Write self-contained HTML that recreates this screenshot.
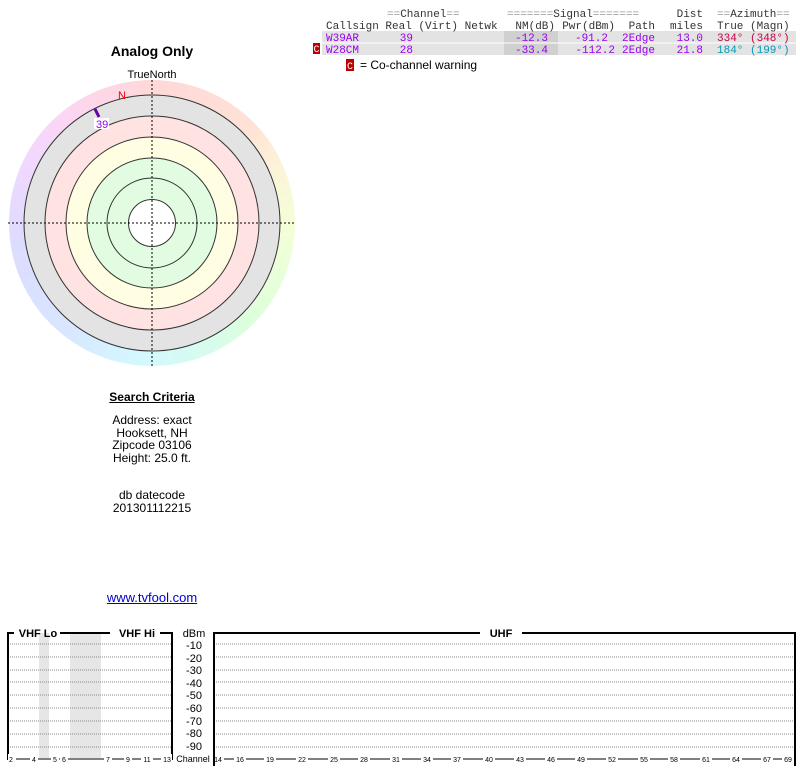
<!DOCTYPE html>
<html><head><meta charset="utf-8"><style>
body{margin:0;width:800px;height:768px;background:#fff;position:relative;overflow:hidden;font-family:"Liberation Sans",sans-serif}
.wheel{position:absolute;left:9px;top:80px;width:286px;height:286px;border-radius:50%;
background:conic-gradient(from 0deg,#ffd8d8,#ffe2d6 45deg,#fbf6d8 70deg,#f2ffd8 95deg,#dcffdc 135deg,#d6fbf0 160deg,#d4f8ff 185deg,#d8e6ff 220deg,#dcdcff 260deg,#f0d8ff 295deg,#fcd6f4 320deg,#ffd8d8 360deg)}
svg{position:absolute;left:0;top:0}
.t{position:absolute;text-align:center;width:304px;left:0;font-size:12px;line-height:12.5px}
</style></head><body>
<div class="wheel"></div>
<svg width="800" height="768" font-family="Liberation Sans, sans-serif">
<circle cx="152" cy="223" r="128" fill="#e3e3e3"/>
<circle cx="152" cy="223" r="107" fill="#ffe2e2"/>
<circle cx="152" cy="223" r="86" fill="#fffde2"/>
<circle cx="152" cy="223" r="65" fill="#e2fce2"/>
<circle cx="152" cy="223" r="23.5" fill="#fff"/>
<g fill="none" stroke="#333" stroke-width="1">
<circle cx="152" cy="223" r="128"/><circle cx="152" cy="223" r="107"/><circle cx="152" cy="223" r="86"/>
<circle cx="152" cy="223" r="65"/><circle cx="152" cy="223" r="45"/><circle cx="152" cy="223" r="23.5"/>
</g>
<g stroke="#000" stroke-dasharray="2,2"><line x1="152" y1="80" x2="152" y2="367"/><line x1="8" y1="223" x2="296" y2="223"/></g>
<text x="122" y="99" fill="#e00" font-size="11" text-anchor="middle">N</text>
<line x1="95" y1="109" x2="99" y2="117" stroke="#6600aa" stroke-width="3"/>
<rect x="94" y="118" width="15" height="11" fill="#fff"/>
<text x="96" y="128" fill="#9900ee" font-size="11">39</text>
<text x="152" y="56" font-size="14" font-weight="bold" text-anchor="middle">Analog Only</text>
<text x="152" y="78" font-size="11" text-anchor="middle">TrueNorth</text>

<!-- table -->
<rect x="322" y="31" width="474" height="12" fill="#e3e3e3"/>
<rect x="322" y="43" width="474" height="12" fill="#e3e3e3"/>
<rect x="504" y="31" width="54" height="24" fill="#d0d0d0"/>
<line x1="322" y1="43" x2="796" y2="43" stroke="#fff"/>
<rect x="313" y="43" width="7" height="11" fill="#b00"/>
<text x="316.5" y="52" fill="#fff" font-size="10" text-anchor="middle" font-family="Liberation Mono, monospace">C</text>
<g font-family="Liberation Mono, monospace" font-size="11">
<text x="387" y="17" fill="#999">==<tspan fill="#333">Channel</tspan>==</text>
<text x="507" y="17" fill="#999">=======<tspan fill="#333">Signal</tspan>=======</text>
<text x="703" y="17" fill="#333" text-anchor="end">Dist</text>
<text x="717" y="17" fill="#999">==<tspan fill="#333">Azimuth</tspan>==</text>
<text x="326" y="29" fill="#333">Callsign Real (Virt) Netwk</text>
<text x="555" y="29" fill="#333" text-anchor="end">NM(dB)</text>
<text x="615" y="29" fill="#333" text-anchor="end">Pwr(dBm)</text>
<text x="655" y="29" fill="#333" text-anchor="end">Path</text>
<text x="703" y="29" fill="#333" text-anchor="end">miles</text>
<text x="717" y="29" fill="#333">True (Magn)</text>
<g fill="#9900ee">
<text x="326" y="41">W39AR</text><text x="413" y="41" text-anchor="end">39</text>
<text x="548" y="41" text-anchor="end">-12.3</text><text x="608" y="41" text-anchor="end">-91.2</text>
<text x="655" y="41" text-anchor="end">2Edge</text><text x="703" y="41" text-anchor="end">13.0</text>
<text x="326" y="53">W28CM</text><text x="413" y="53" text-anchor="end">28</text>
<text x="548" y="53" text-anchor="end">-33.4</text><text x="615" y="53" text-anchor="end">-112.2</text>
<text x="655" y="53" text-anchor="end">2Edge</text><text x="703" y="53" text-anchor="end">21.8</text>
</g>
<text x="717" y="41" fill="#cc0044">334° (348°)</text>
<text x="717" y="53" fill="#0099bb">184° (199°)</text>
</g>
<rect x="346" y="59" width="8" height="12" fill="#b00"/>
<text x="350" y="69" fill="#fff" font-size="10" text-anchor="middle" font-family="Liberation Mono, monospace">C</text>
<text x="360" y="69" font-size="12">= Co-channel warning</text>

<!-- bottom chart -->
<rect x="39" y="633" width="10" height="125" fill="#e6e6e6"/>
<rect x="70" y="633" width="31" height="125" fill="#e6e6e6"/>
<g stroke="#888" stroke-dasharray="1,1">
<path d="M8 644H172M8 657H172M8 670H172M8 682H172M8 695H172M8 708H172M8 721H172M8 734H172M8 747H172"/>
<path d="M214 644H795M214 657H795M214 670H795M214 682H795M214 695H795M214 708H795M214 721H795M214 734H795M214 747H795"/>
</g>
<g stroke="#000" stroke-width="2" fill="none">
<path d="M8 760V633H14M60 633H110M160 633H172V760"/>
<path d="M214 760V633H480M522 633H795V760"/>
</g>
<g font-size="11" font-weight="bold" text-anchor="middle">
<text x="38" y="637">VHF Lo</text><text x="137" y="637">VHF Hi</text><text x="501" y="637">UHF</text>
</g>
<g font-size="11" text-anchor="middle">
<text x="194" y="637">dBm</text>
<text x="194" y="649">-10</text><text x="194" y="662">-20</text><text x="194" y="674">-30</text><text x="194" y="687">-40</text><text x="194" y="699">-50</text><text x="194" y="712">-60</text><text x="194" y="725">-70</text><text x="194" y="737">-80</text><text x="194" y="750">-90</text>
<text x="193" y="762" font-size="9">Channel</text>
</g>
<line x1="8" y1="759" x2="172" y2="759" stroke="#000"/>
<line x1="214" y1="759" x2="795" y2="759" stroke="#000"/>
<g font-size="7" text-anchor="middle"><g fill="#000">
<rect x="8" y="754" width="8" height="12" fill="#fff"/><text x="11" y="762">2</text>
<rect x="30" y="754" width="8" height="12" fill="#fff"/><text x="34" y="762">4</text>
<rect x="51" y="754" width="8" height="12" fill="#fff"/><text x="55" y="762">5</text>
<rect x="60" y="754" width="8" height="12" fill="#fff"/><text x="64" y="762">6</text>
<rect x="104" y="754" width="8" height="12" fill="#fff"/><text x="108" y="762">7</text>
<rect x="124" y="754" width="8" height="12" fill="#fff"/><text x="128" y="762">9</text>
<rect x="141" y="754" width="12" height="12" fill="#fff"/><text x="147" y="762">11</text>
<rect x="161" y="754" width="11" height="12" fill="#fff"/><text x="167" y="762">13</text>
</g>
<g>
<rect x="215" y="754" width="580" height="0" fill="#fff"/>
</g>
</g>
<g font-size="7" text-anchor="middle" id="u"></g>
</svg>
<svg width="800" height="768" font-family="Liberation Sans, sans-serif" font-size="7" text-anchor="middle">
<g fill="#fff">
<rect x="212" y="754" width="12" height="12"/><rect x="234" y="754" width="12" height="12"/><rect x="264" y="754" width="12" height="12"/><rect x="296" y="754" width="12" height="12"/><rect x="328" y="754" width="12" height="12"/><rect x="358" y="754" width="12" height="12"/><rect x="390" y="754" width="12" height="12"/><rect x="421" y="754" width="12" height="12"/><rect x="451" y="754" width="12" height="12"/><rect x="483" y="754" width="12" height="12"/><rect x="514" y="754" width="12" height="12"/><rect x="545" y="754" width="12" height="12"/><rect x="575" y="754" width="12" height="12"/><rect x="606" y="754" width="12" height="12"/><rect x="638" y="754" width="12" height="12"/><rect x="668" y="754" width="12" height="12"/><rect x="700" y="754" width="12" height="12"/><rect x="730" y="754" width="12" height="12"/><rect x="761" y="754" width="12" height="12"/><rect x="782" y="754" width="12" height="12"/>
</g>
<text x="218" y="762">14</text><text x="240" y="762">16</text><text x="270" y="762">19</text><text x="302" y="762">22</text><text x="334" y="762">25</text><text x="364" y="762">28</text><text x="396" y="762">31</text><text x="427" y="762">34</text><text x="457" y="762">37</text><text x="489" y="762">40</text><text x="520" y="762">43</text><text x="551" y="762">46</text><text x="581" y="762">49</text><text x="612" y="762">52</text><text x="644" y="762">55</text><text x="674" y="762">58</text><text x="706" y="762">61</text><text x="736" y="762">64</text><text x="767" y="762">67</text><text x="788" y="762">69</text>
<line x1="214" y1="754" x2="214" y2="766" stroke="#000" stroke-width="2"/>
<line x1="795" y1="754" x2="795" y2="766" stroke="#000" stroke-width="2"/>
</svg>
<div class="t" style="top:391px;font-weight:bold;text-decoration:underline">Search Criteria</div>
<div class="t" style="top:414px">Address: exact<br>Hooksett, NH<br>Zipcode 03106<br>Height: 25.0 ft.</div>
<div class="t" style="top:489px">db datecode<br>201301112215</div>
<div class="t" style="top:592px;font-size:13px;color:#00c;text-decoration:underline">www.tvfool.com</div>
</body></html>
